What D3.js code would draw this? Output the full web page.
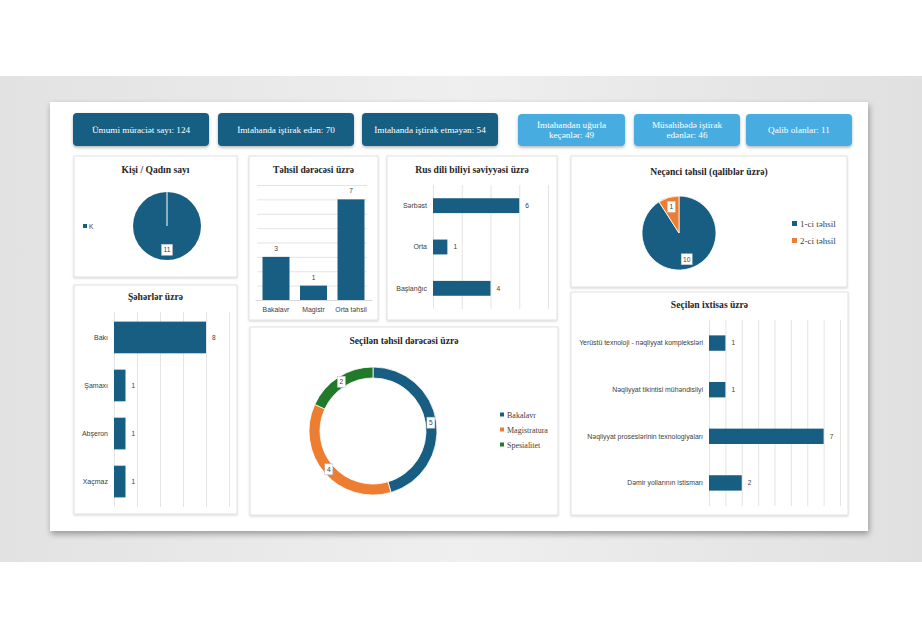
<!DOCTYPE html>
<html>
<head>
<meta charset="utf-8">
<script src="https://cdn.jsdelivr.net/npm/d3@7"></script>
<style>
  html, body { margin: 0; padding: 0; background: #fff; }
  svg { display: block; }
  .ttl { font-family: 'Liberation Serif', 'DejaVu Serif', serif; font-weight: bold; fill: #262626; }
  .cat { font-family: 'Liberation Sans', Arial, sans-serif; fill: #404040; }
  .ser { font-family: 'Liberation Serif', 'DejaVu Serif', serif; }
</style>
</head>
<body>
<svg id="chart"></svg>
<script>
// KPI cards
const kpiDarkLabels = ['Ümumi müraciət sayı', 'İmtahanda iştirak edən', 'İmtahanda iştirak etməyən'];
const kpiDarkValues = [124, 70, 54];
const kpiLightLabels = [['İmtahandan uğurla', 'keçənlər'], ['Müsahibədə iştirak', 'edənlər'], ['Qalib olanlar']];
const kpiLightValues = [49, 46, 11];

// Kişi / Qadın sayı
const genderLabels = ['K'];
const genderValues = [11];

// Təhsil dərəcəsi üzrə
const eduCats = ['Bakalavr', 'Magistr', 'Orta təhsil'];
const eduValues = [3, 1, 7];

// Rus dili biliyi səviyyəsi üzrə
const rusCats = ['Sərbəst', 'Orta', 'Başlanğıc'];
const rusValues = [6, 1, 4];

// Neçənci təhsil (qaliblər üzrə)
const nthLabels = ['1-ci təhsil', '2-ci təhsil'];
const nthValues = [10, 1];

// Şəhərlər üzrə
const cityCats = ['Bakı', 'Şamaxı', 'Abşeron', 'Xaçmaz'];
const cityValues = [8, 1, 1, 1];

// Seçilən təhsil dərəcəsi üzrə
const degLabels = ['Bakalavr', 'Magistratura', 'Spesialitet'];
const degValues = [5, 4, 2];

// Seçilən ixtisas üzrə
const specCats = ['Yerüstü texnoloji - nəqliyyat kompleksləri', 'Nəqliyyat tikintisi mühəndisliyi',
  'Nəqliyyat proseslərinin texnologiyaları', 'Dəmir yollarının istismarı'];
const specValues = [1, 1, 7, 2];

const dark = '#185e83';
const light = '#46ade0';
const orange = '#ed7d31';
const green = '#217a2a';

const W = 922, H = 630;
const svg = d3.select('#chart').attr('width', W).attr('height', H);
const defs = svg.append('defs');

const sh = defs.append('filter').attr('id', 'cardShadow').attr('x', '-5%').attr('y', '-5%').attr('width', '110%').attr('height', '115%');
sh.append('feDropShadow').attr('dx', 1).attr('dy', 3).attr('stdDeviation', 3).attr('flood-color', '#000').attr('flood-opacity', 0.35);

const psh = defs.append('filter').attr('id', 'panelShadow').attr('x', '-5%').attr('y', '-5%').attr('width', '110%').attr('height', '110%');
psh.append('feDropShadow').attr('dx', 0).attr('dy', 1).attr('stdDeviation', 1).attr('flood-color', '#000').attr('flood-opacity', 0.18);

const ksh = defs.append('filter').attr('id', 'kpiShadow').attr('x', '-10%').attr('y', '-20%').attr('width', '120%').attr('height', '150%');
ksh.append('feDropShadow').attr('dx', 0).attr('dy', 1.5).attr('stdDeviation', 1.5).attr('flood-color', '#000').attr('flood-opacity', 0.3);

const bandGrad = defs.append('linearGradient').attr('id', 'bandGrad');
bandGrad.append('stop').attr('offset', '0%').attr('stop-color', '#e2e2e2');
bandGrad.append('stop').attr('offset', '50%').attr('stop-color', '#efefef');
bandGrad.append('stop').attr('offset', '100%').attr('stop-color', '#e0e0e0');

// gray backdrop band + dashboard card
svg.append('rect').attr('x', 0).attr('y', 76).attr('width', W).attr('height', 486).attr('fill', 'url(#bandGrad)');
svg.append('rect').attr('x', 50).attr('y', 102).attr('width', 818).attr('height', 429)
  .attr('fill', '#fff').attr('filter', 'url(#cardShadow)');

// KPI boxes
const kpiDarkX = [73, 218, 362];
kpiDarkLabels.forEach((l, i) => {
  const g = svg.append('g').attr('transform', `translate(${kpiDarkX[i]},113)`);
  g.append('rect').attr('width', 136).attr('height', 33).attr('rx', 4)
    .attr('fill', dark).attr('filter', 'url(#kpiShadow)');
  g.append('text').attr('class', 'ser').attr('x', 68).attr('y', 19.8)
    .attr('text-anchor', 'middle').attr('font-size', 9.2).attr('fill', '#fff')
    .text(`${l}: ${kpiDarkValues[i]}`);
});

const kpiLightX = [518, 634, 746];
const kpiLightW = [107, 106, 106];
kpiLightLabels.forEach((lines, i) => {
  const g = svg.append('g').attr('transform', `translate(${kpiLightX[i]},114)`);
  g.append('rect').attr('width', kpiLightW[i]).attr('height', 32).attr('rx', 4)
    .attr('fill', light).attr('filter', 'url(#kpiShadow)');
  const t = g.append('text').attr('class', 'ser').attr('text-anchor', 'middle')
    .attr('font-size', 9.2).attr('fill', '#fff');
  const parts = lines.slice();
  parts[parts.length - 1] = `${parts[parts.length - 1]}: ${kpiLightValues[i]}`;
  const y0 = parts.length === 1 ? 19.3 : 13.5;
  parts.forEach((p, j) => {
    t.append('tspan').attr('x', kpiLightW[i] / 2).attr('y', y0 + j * 10.5).text(p);
  });
});

// panel helper
function panel(x, y, w, h, title, ty) {
  svg.append('rect').attr('x', x).attr('y', y).attr('width', w).attr('height', h)
    .attr('fill', '#fff').attr('stroke', '#d9d9d9').attr('stroke-width', 0.8)
    .attr('filter', 'url(#panelShadow)');
  svg.append('text').attr('class', 'ttl').attr('x', x + w / 2).attr('y', ty)
    .attr('text-anchor', 'middle').attr('font-size', 9.6).text(title);
}

function labelBox(g, x, y, txt) {
  const bw = txt.length > 1 ? 11 : 8;
  g.append('rect').attr('x', x - bw / 2).attr('y', y - 5.5).attr('width', bw).attr('height', 11)
    .attr('fill', '#fff').attr('stroke', '#bfbfbf').attr('stroke-width', 0.5);
  g.append('text').attr('class', 'cat').attr('x', x).attr('y', y + 2.4)
    .attr('text-anchor', 'middle').attr('font-size', 6.6).attr('fill', '#404040').text(txt);
}

function styleGrid(g) {
  g.select('.domain').remove();
  g.selectAll('.tick line').attr('stroke', '#d9d9d9').attr('stroke-width', 0.7);
  g.selectAll('.tick text').remove();
}

// ---------- Kişi / Qadın sayı ----------
panel(74, 156, 163, 121, 'Kişi / Qadın sayı', 173);
{
  const cx = 167, cy = 226, r = 34;
  const g = svg.append('g').attr('transform', `translate(${cx},${cy})`);
  const pie = d3.pie().sort(null)(genderValues);
  const arc = d3.arc().innerRadius(0).outerRadius(r);
  g.selectAll('path').data(pie).join('path').attr('d', arc).attr('fill', dark);
  g.selectAll('line.sep').data(pie).join('line').attr('class', 'sep')
    .attr('x1', 0).attr('y1', 0)
    .attr('x2', d => r * Math.sin(d.startAngle)).attr('y2', d => -r * Math.cos(d.startAngle))
    .attr('stroke', '#fff').attr('stroke-width', 1);
  const lab = d3.arc().innerRadius(r * 0.7).outerRadius(r * 0.7);
  pie.forEach(d => { const c = lab.centroid(d); labelBox(g, c[0], c[1], String(d.data)); });
  const lg = svg.append('g').attr('transform', 'translate(83,227)');
  genderLabels.forEach((l, i) => {
    lg.append('rect').attr('x', 0).attr('y', i * 12 - 3).attr('width', 4).attr('height', 4).attr('fill', dark);
    lg.append('text').attr('class', 'cat').attr('x', 6).attr('y', i * 12 + 1.5).attr('font-size', 6.5).text(l);
  });
}

// ---------- Təhsil dərəcəsi üzrə ----------
panel(249, 156, 129, 164, 'Təhsil dərəcəsi üzrə', 173);
{
  const x = d3.scaleBand().domain(eduCats).range([255, 372]).paddingInner(0.28).paddingOuter(0.2);
  const y = d3.scaleLinear().domain([0, 8]).range([300, 185]);
  const grid = svg.append('g').attr('transform', 'translate(257,0)')
    .call(d3.axisLeft(y).ticks(8).tickSize(-110));
  styleGrid(grid);
  svg.selectAll('rect.edu').data(eduValues).join('rect').attr('class', 'edu')
    .attr('x', (d, i) => x(eduCats[i])).attr('width', x.bandwidth())
    .attr('y', d => y(d)).attr('height', d => y(0) - y(d)).attr('fill', dark);
  svg.selectAll('text.eduv').data(eduValues).join('text').attr('class', 'cat eduv')
    .attr('x', (d, i) => x(eduCats[i]) + x.bandwidth() / 2).attr('y', d => y(d) - 6)
    .attr('text-anchor', 'middle').attr('font-size', 6.6).text(d => d);
  const ax = svg.append('g').attr('transform', 'translate(0,300)').call(d3.axisBottom(x).tickSize(0).tickPadding(7));
  ax.select('.domain').attr('stroke', '#d9d9d9');
  ax.selectAll('text').attr('class', 'cat').attr('font-size', 6.9).attr('fill', '#595959');
}

// horizontal bar helper
function hbar(cats, vals, yr, xr, xmax, tickStep, pi, po, labelFs) {
  const y = d3.scaleBand().domain(cats).range(yr).paddingInner(pi).paddingOuter(po);
  const x = d3.scaleLinear().domain([0, xmax]).range(xr);
  const grid = svg.append('g').attr('transform', `translate(0,${yr[1]})`)
    .call(d3.axisBottom(x).tickValues(d3.range(0, xmax + 0.001, tickStep)).tickSize(-(yr[1] - yr[0])));
  styleGrid(grid);
  const g = svg.append('g');
  g.selectAll('rect').data(vals).join('rect')
    .attr('x', x(0)).attr('y', (d, i) => y(cats[i]))
    .attr('width', d => x(d) - x(0)).attr('height', y.bandwidth()).attr('fill', dark);
  g.selectAll('text.v').data(vals).join('text').attr('class', 'cat v')
    .attr('x', d => x(d) + 6).attr('y', (d, i) => y(cats[i]) + y.bandwidth() / 2 + 2.3)
    .attr('font-size', 6.6).text(d => d);
  const ax = svg.append('g').attr('transform', `translate(${x(0)},0)`)
    .call(d3.axisLeft(y).tickSize(0).tickPadding(6));
  ax.select('.domain').remove();
  ax.selectAll('text').attr('class', 'cat').attr('font-size', labelFs).attr('fill', '#404040');
}

// ---------- Rus dili biliyi səviyyəsi üzrə ----------
panel(387, 156, 170, 164, 'Rus dili biliyi səviyyəsi üzrə', 173);
hbar(rusCats, rusValues, [185, 309], [433, 548], 8, 2, 0.64, 0.32, 7);

// ---------- Şəhərlər üzrə ----------
panel(74, 285, 163, 229, 'Şəhərlər üzrə', 300);
hbar(cityCats, cityValues, [312, 507], [114, 229], 10, 2, 0.34, 0.2, 7);

// ---------- Seçilən ixtisas üzrə ----------
panel(571, 292, 277, 223, 'Seçilən ixtisas üzrə', 308);
hbar(specCats, specValues, [320, 506], [709, 840], 8, 1, 0.67, 0.33, 6.9);

// ---------- Neçənci təhsil (qaliblər üzrə) ----------
panel(571, 156, 276, 131, 'Neçənci təhsil (qaliblər üzrə)', 175);
{
  const cx = 679, cy = 233, r = 37;
  const colors = [dark, orange];
  const g = svg.append('g').attr('transform', `translate(${cx},${cy})`);
  const pie = d3.pie().sort(null)(nthValues);
  const arc = d3.arc().innerRadius(0).outerRadius(r);
  g.selectAll('path').data(pie).join('path').attr('d', arc)
    .attr('fill', (d, i) => colors[i]).attr('stroke', '#fff').attr('stroke-width', 0.8);
  const lab = d3.arc().innerRadius(r * 0.74).outerRadius(r * 0.74);
  pie.forEach(d => { const c = lab.centroid(d); labelBox(g, c[0], c[1], String(d.data)); });
  const lg = svg.append('g').attr('transform', 'translate(792,225)');
  nthLabels.forEach((l, i) => {
    lg.append('rect').attr('x', 0).attr('y', i * 17 - 4).attr('width', 5).attr('height', 5).attr('fill', colors[i]);
    lg.append('text').attr('class', 'ser').attr('x', 8).attr('y', i * 17 + 1.5)
      .attr('font-size', 9).attr('fill', '#404040').text(l);
  });
}

// ---------- Seçilən təhsil dərəcəsi üzrə ----------
panel(250, 327, 308, 188, 'Seçilən təhsil dərəcəsi üzrə', 344);
{
  const cx = 373, cy = 431, r = 64;
  const colors = [dark, orange, green];
  const g = svg.append('g').attr('transform', `translate(${cx},${cy})`);
  const pie = d3.pie().sort(null)(degValues);
  const arc = d3.arc().innerRadius(r - 11).outerRadius(r);
  g.selectAll('path').data(pie).join('path').attr('d', arc)
    .attr('fill', (d, i) => colors[i]).attr('stroke', '#fff').attr('stroke-width', 0.8);
  const lab = d3.arc().innerRadius(r - 5.5).outerRadius(r - 5.5);
  pie.forEach(d => { const c = lab.centroid(d); labelBox(g, c[0], c[1], String(d.data)); });
  const lg = svg.append('g').attr('transform', 'translate(500,416)');
  degLabels.forEach((l, i) => {
    lg.append('rect').attr('x', 0).attr('y', i * 15 - 3.5).attr('width', 4).attr('height', 4).attr('fill', colors[i]);
    lg.append('text').attr('class', 'ser').attr('x', 7).attr('y', i * 15 + 1.5)
      .attr('font-size', 8).attr('fill', '#404040').text(l);
  });
}
</script>
</body>
</html>
